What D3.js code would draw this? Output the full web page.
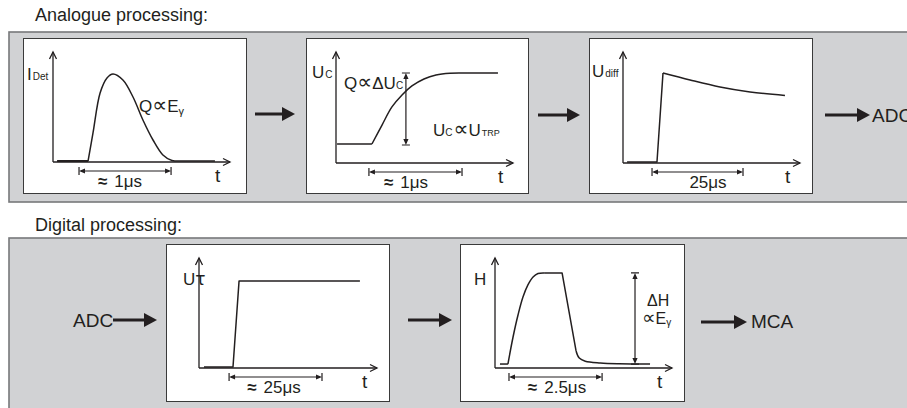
<!DOCTYPE html>
<html><head><meta charset="utf-8">
<script src="https://cdn.jsdelivr.net/npm/d3@7"></script>
<style>
body{margin:0;background:#fff}
svg{display:block}
text{font-family:"Liberation Sans",Arial,Helvetica,sans-serif;fill:#231f20}
tspan.sym{font-family:"DejaVu Sans",sans-serif}
</style>
</head><body>
<svg id="c" width="907" height="408"></svg>
<script>
// ---------- data ----------
const sectionTitles = ["Analogue processing:", "Digital processing:"];
const timeLabels = ["≈ 1μs", "≈ 1μs", "25μs", "≈ 25μs", "≈ 2.5μs"];
// time-span markers (x units, 0..100 along each t axis)
const timeSpans = [[14.7, 66.7], [18.6, 71.2], [16.4, 67.8], [16.9, 69.1], [7.9, 60.5]];
// amplitude-span markers [x, yFrom, yTo] for panels 2 and 5
const ampSpans = [[39.5, 16.2, 81.1], [79.1, 3.6, 86.4]];

// curves (x: 0..100 along t axis, y: 0..100 along value axis)
const detBase  = [[2.3, 0.9], [19.8, 0.9]];
const detPulse = [[19.8, 0.9], [22.6, 26.4], [26.6, 62.7], [30.5, 76.4], [33.9, 80], [39.5, 74.5],
                  [45.2, 59.1], [50.8, 38.2], [56.5, 20], [62.1, 6.4], [67.2, 1.4], [75, 0.9], [91.5, 0.9]];
const ucBase   = [[0.6, 17.1], [20.3, 17.1]];
const ucRise   = [[20.3, 17.1], [26, 34.2], [31.6, 50.5], [37.3, 61.3], [42.9, 69.4], [49.7, 75.7],
                  [56.5, 79.3], [64.4, 80.9], [72.9, 81.1], [91.5, 81.1]];
const diffStep = [[2.3, 0.9], [19.2, 0.9], [22.6, 81.1]];
const diffDecay= [[22.6, 81.1], [37.9, 74.8], [54.8, 68.5], [71.8, 64], [91.5, 60.8]];
const tauStep  = [[2.8, 0.9], [19.1, 0.9], [22.5, 79.1], [90.4, 79.1]];
const hBase    = [[2.8, 3.6], [7.3, 3.6]];
const hRise    = [[7.3, 3.6], [10.2, 28.2], [13, 48.2], [15.8, 64.5], [18.6, 75.5], [21.5, 82.7],
                  [24.3, 85.9], [28.2, 86.4]];
const hFlat    = [[28.2, 86.4], [37.9, 86.4], [45.8, 15.5]];
const hTail    = [[45.8, 15.5], [47.6, 9], [51, 6.2], [59.5, 4.6], [70, 3.9], [87.6, 3.6]];

// ---------- drawing ----------
const svg = d3.select("#c");
const ink = "#231f20";

// grey bands
svg.append("rect").attr("x", 9).attr("y", 32).attr("width", 920).attr("height", 170)
  .attr("fill", "#d1d2d4").attr("stroke", "#77787a").attr("stroke-width", 1.6);
svg.append("rect").attr("x", 9).attr("y", 238).attr("width", 920).attr("height", 190)
  .attr("fill", "#d1d2d4").attr("stroke", "#77787a").attr("stroke-width", 1.6);

svg.append("text").attr("x", 35).attr("y", 21).attr("font-size", 18).text(sectionTitles[0]);
svg.append("text").attr("x", 35).attr("y", 231).attr("font-size", 18).text(sectionTitles[1]);

// layout (pixels); lc = centre of time label
const panels = [
  {bx: 23,  by: 38,  bw: 223, bh: 155, ox: 53,  xe: 230, oy: 162, yt: 52,  lc: 120},
  {bx: 306, by: 38,  bw: 222, bh: 155, ox: 336, xe: 513, oy: 163, yt: 52,  lc: 406},
  {bx: 589, by: 38,  bw: 223, bh: 155, ox: 623, xe: 800, oy: 163, yt: 52,  lc: 708},
  {bx: 166, by: 244, bw: 223, bh: 157, ox: 199, xe: 377, oy: 368, yt: 258, lc: 274},
  {bx: 460, by: 244, bw: 224, bh: 157, ox: 495, xe: 672, oy: 368, yt: 258, lc: 557}
];
panels.forEach(p => {
  p.x = d3.scaleLinear().domain([0, 100]).range([p.ox, p.xe]);
  p.y = d3.scaleLinear().domain([0, 100]).range([p.oy, p.yt]);
});

function line(p, pts, curve, w) {
  const g = d3.line().x(d => p.x(d[0])).y(d => p.y(d[1])).curve(curve);
  svg.append("path").attr("d", g(pts)).attr("fill", "none").attr("stroke", ink)
    .attr("stroke-width", w || 1.5).attr("stroke-linejoin", "round");
}

function hDim(a, b, yy) {
  svg.append("path").attr("d", `M${a},${yy - 4}V${yy + 4}M${b},${yy - 4}V${yy + 4}M${a + 2},${yy}H${b - 2}`)
    .attr("stroke", ink).attr("stroke-width", 1.2).attr("fill", "none");
  svg.append("path").attr("d", `M${a},${yy}l6,-2.6v5.2zM${b},${yy}l-6,-2.6v5.2z`).attr("fill", ink);
}
function vDim(x, a, b) {
  svg.append("path").attr("d", `M${x - 4},${a}H${x + 4}M${x - 4},${b}H${x + 4}M${x},${a + 2}V${b - 2}`)
    .attr("stroke", ink).attr("stroke-width", 1.2).attr("fill", "none");
  svg.append("path").attr("d", `M${x},${a}l-2.6,6h5.2zM${x},${b}l-2.6,-6h5.2z`).attr("fill", ink);
}

function drawPanel(p, i) {
  svg.append("rect").attr("x", p.bx + 0.5).attr("y", p.by + 0.5).attr("width", p.bw).attr("height", p.bh)
    .attr("fill", "#fff").attr("stroke", "#3a3a3a").attr("stroke-width", 1);
  const x0 = p.x(0), y0 = p.y(0), x1 = p.x(100), y1 = p.y(100);
  svg.append("path").attr("d", `M${x0},${y0}V${y1}M${x0},${y0}H${x1}`)
    .attr("stroke", ink).attr("stroke-width", 1.3).attr("fill", "none");
  svg.append("path").attr("d", `M${x0 - 3.5},${y1 + 7}L${x0},${y1}L${x0 + 3.5},${y1 + 7}M${x1 - 7},${y0 - 3.5}L${x1},${y0}L${x1 - 7},${y0 + 3.5}`)
    .attr("stroke", ink).attr("stroke-width", 1.3).attr("fill", "none");
  svg.append("text").attr("x", x1 - 15).attr("y", y0 + 20).attr("font-size", 19).text("t");
  const s = timeSpans[i], a = p.x(s[0]), b = p.x(s[1]), yy = y0 + 9;
  hDim(a, b, yy);
  const lab = timeLabels[i];
  const t = svg.append("text").attr("x", p.lc).attr("y", yy + 16).attr("font-size", 17)
    .attr("text-anchor", "middle");
  if (lab.startsWith("≈")) {
    t.append("tspan").attr("font-weight", "bold").text("≈");
    t.append("tspan").attr("dx", 7).text(lab.slice(2));
  } else {
    t.text(lab);
  }
}

panels.forEach(drawPanel);

// parts: [text, size, dy, dx, isSymbol]
function label(x, y, parts) {
  const t = svg.append("text").attr("x", x).attr("y", y);
  parts.forEach(q => {
    const s = t.append("tspan").text(q[0]).attr("font-size", q[1]);
    if (q[2] !== undefined) s.attr("dy", q[2]);
    if (q[3] !== undefined) s.attr("dx", q[3]);
    if (q[4]) s.attr("class", "sym").style("font-family", "'DejaVu Sans', sans-serif");
  });
  return t;
}

// Panel 1
let P = panels[0];
line(P, detBase, d3.curveLinear, 2);
line(P, detPulse, d3.curveCatmullRom);
label(27, 80, [["I", 17], ["Det", 10, 0, 1]]);
label(139, 112, [["Q", 17], ["∝", 21, 0, 0, 1], ["E", 17, 0, 0], ["γ", 11, 3]]);

// Panel 2
P = panels[1];
line(P, ucBase, d3.curveLinear);
line(P, ucRise, d3.curveCatmullRom);
vDim(P.x(ampSpans[0][0]), P.y(ampSpans[0][2]), P.y(ampSpans[0][1]));
label(312, 78, [["U", 17], ["C", 10, 0, 1]]);
label(344, 89, [["Q", 17], ["∝", 21, 0, 0, 1], ["ΔU", 17, 0, 0], ["C", 10, 0, 0]]);
label(433, 136, [["U", 17], ["C", 10], ["∝", 21, 0, 1, 1], ["U", 17, 0, 0], ["TRP", 9, 0, 1]]);

// Panel 3
P = panels[2];
line(P, diffStep, d3.curveLinear);
line(P, diffDecay, d3.curveCatmullRom);
label(592, 77, [["U", 17], ["diff", 10, 0, 1]]);

// Panel 4
P = panels[3];
line(P, tauStep, d3.curveLinear);
label(183, 285, [["U", 17], ["τ", 17, 0, 0, 1]]);

// Panel 5
P = panels[4];
line(P, hBase, d3.curveLinear);
line(P, hRise, d3.curveCatmullRom);
line(P, hFlat, d3.curveLinear);
line(P, hTail, d3.curveCatmullRom);
vDim(P.x(ampSpans[1][0]), P.y(ampSpans[1][2]), P.y(ampSpans[1][1]));
label(474, 285, [["H", 17]]);
label(647, 306, [["ΔH", 16]]);
label(642, 324, [["∝", 19, 0, 0, 1], ["E", 16, 0, 0], ["γ", 10, 2]]);

// flow arrows
function bigArrow(xa, xb, y) {
  svg.append("line").attr("x1", xa).attr("x2", xb - 10).attr("y1", y).attr("y2", y)
    .attr("stroke", ink).attr("stroke-width", 3);
  svg.append("path").attr("d", `M${xb},${y}L${xb - 13},${y - 7}L${xb - 13},${y + 7}Z`).attr("fill", ink);
}
bigArrow(255, 295, 114);
bigArrow(538, 580, 115);
bigArrow(825, 870, 115);
svg.append("text").attr("x", 872).attr("y", 122).attr("font-size", 19).text("ADC");
svg.append("text").attr("x", 73).attr("y", 327).attr("font-size", 19).text("ADC");
bigArrow(113, 157, 320);
bigArrow(408, 452, 320);
bigArrow(701, 747, 322);
svg.append("text").attr("x", 751).attr("y", 328).attr("font-size", 19).text("MCA");
</script>
</body></html>
